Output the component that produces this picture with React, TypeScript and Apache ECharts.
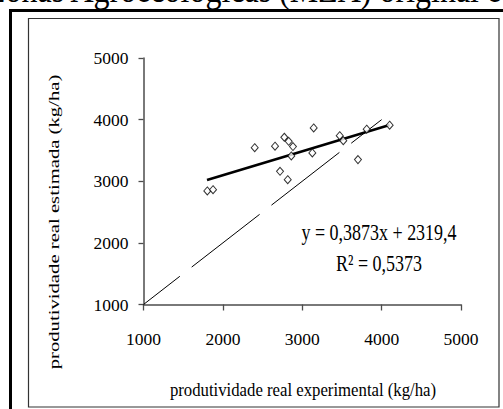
import React, { useEffect, useRef } from "react";
import * as echarts from "echarts";

const xTicks = [1000, 2000, 3000, 4000, 5000];
const yTicks = [1000, 2000, 3000, 4000, 5000];

const expX = [1804, 1876, 2401, 2657, 2720, 2774, 2829, 2883, 2862, 2817, 3144, 3127, 3472, 3517, 3702, 3812, 4101];
const estY = [2843, 2864, 3545, 3568, 3162, 3714, 3649, 3562, 3411, 3026, 3865, 3459, 3740, 3659, 3351, 3844, 3909];

const trendX = [1800, 4100];
const trendY = [3020, 3912];

const diagX = [1000, 4000];
const diagY = [1000, 4000];

const titleText = "Zonas Agroecológicas (MZA) original e";
const xName = "produtividade real experimental (kg/ha)";
const yName = "produtividade real estimada (kg/ha)";
const eqText = "y = 0,3873x + 2319,4";
const r2Text = "R² = 0,5373";

const SERIF = "'Liberation Serif', 'Times New Roman', serif";

export default function App() {
  const ref = useRef<HTMLDivElement>(null);
  useEffect(() => {
    if (!ref.current) return;
    const chart = echarts.init(ref.current, null, { renderer: "svg" });
    const pts = expX.map((x, i) => [x, estY[i]]);
    chart.setOption({
      animation: false,
      backgroundColor: "#fff",
      grid: { left: 143.5, right: 42, top: 58, bottom: 104.5 },
      xAxis: {
        type: "value",
        min: xTicks[0],
        max: xTicks[xTicks.length - 1],
        interval: 1000,
        splitLine: { show: false },
        axisLine: { show: true, lineStyle: { color: "#4d4d4d", width: 1.5 } },
        axisTick: { show: true, length: 6, lineStyle: { color: "#4d4d4d", width: 1.3 } },
        axisLabel: {
          margin: 25,
          color: "#000",
          fontFamily: SERIF,
          fontWeight: "normal",
          fontSize: 17.5,
          formatter: (v: number) => String(v),
        },
      },
      yAxis: {
        type: "value",
        min: yTicks[0],
        max: yTicks[yTicks.length - 1],
        interval: 1000,
        splitLine: { show: false },
        axisLine: { show: true, lineStyle: { color: "#4d4d4d", width: 1.5 } },
        axisTick: { show: true, length: 5, lineStyle: { color: "#4d4d4d", width: 1.3 } },
        axisLabel: {
          margin: 15,
          color: "#000",
          fontFamily: SERIF,
          fontWeight: "normal",
          fontSize: 17.5,
          formatter: (v: number) => String(v),
        },
      },
      series: [
        {
          type: "line",
          data: diagX.map((x, i) => [x, diagY[i]]),
          symbol: "none",
          lineStyle: { color: "#000", width: 1, type: [86, 15], dashOffset: 40 },
          z: 1,
        },
        {
          type: "line",
          data: trendX.map((x, i) => [x, trendY[i]]),
          symbol: "none",
          lineStyle: { color: "#000", width: 2.6 },
          z: 2,
        },
        {
          type: "scatter",
          data: pts,
          symbol: "diamond",
          symbolSize: [7, 8],
          itemStyle: { color: "#fff", borderColor: "#000", borderWidth: 1 },
          z: 3,
        },
      ],
      graphic: [
        {
          type: "text",
          x: -14,
          y: -10,
          scaleY: 1.2,
          style: {
            text: titleText,
            fontFamily: SERIF,
            fontWeight: "normal",
            fontSize: 32,
            fill: "#000",
            align: "left",
            verticalAlign: "middle",
          },
        },
        { type: "line", shape: { x1: 10.5, y1: 10.5, x2: 503, y2: 10.5 }, style: { stroke: "#000", lineWidth: 3 } },
        { type: "line", shape: { x1: 10.5, y1: 9, x2: 10.5, y2: 409 }, style: { stroke: "#000", lineWidth: 3 } },
        {
          type: "rect",
          shape: { x: 28.5, y: 18.5, width: 470.5, height: 388.5 },
          style: { stroke: "#333", fill: "none", lineWidth: 1.2 },
        },
        {
          type: "text",
          x: 54,
          y: 222,
          rotation: Math.PI / 2,
          scaleX: 1.38,
          style: {
            text: yName,
            fontFamily: SERIF,
            fontWeight: "normal",
            fontSize: 15,
            fill: "#000",
            align: "center",
            verticalAlign: "middle",
          },
        },
        {
          type: "text",
          x: 303,
          y: 390,
          scaleX: 0.985,
          scaleY: 1.15,
          style: {
            text: xName,
            fontFamily: SERIF,
            fontWeight: "normal",
            fontSize: 17,
            fill: "#000",
            align: "center",
            verticalAlign: "middle",
          },
        },
        {
          type: "text",
          x: 379,
          y: 232,
          scaleY: 1.25,
          style: {
            text: eqText,
            fontFamily: SERIF,
            fontWeight: "normal",
            fontSize: 18,
            fill: "#000",
            align: "center",
            verticalAlign: "middle",
          },
        },
        {
          type: "text",
          x: 379,
          y: 263,
          scaleY: 1.25,
          style: {
            text: r2Text,
            fontFamily: SERIF,
            fontWeight: "normal",
            fontSize: 18,
            fill: "#000",
            align: "center",
            verticalAlign: "middle",
          },
        },
      ],
    });
    return () => chart.dispose();
  }, []);
  return <div ref={ref} style={{ position: "fixed", left: 0, top: 0, width: 503, height: 409 }} />;
}
